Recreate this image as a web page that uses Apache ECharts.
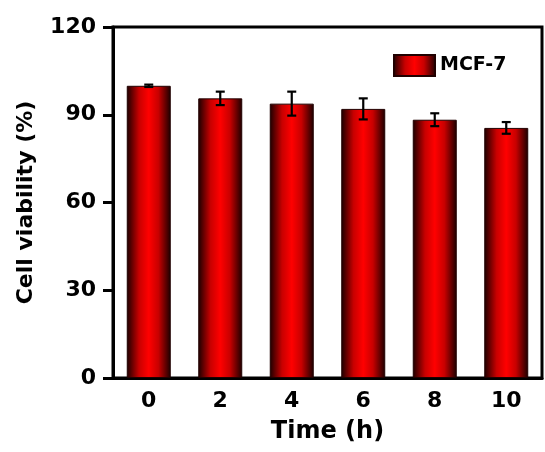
<!DOCTYPE html>
<html>
<head>
<meta charset="utf-8">
<script src="https://cdn.jsdelivr.net/npm/echarts@6/dist/echarts.min.js"></script>
<style>html,body{margin:0;padding:0;background:#fff;}#c{width:545px;height:452px;}</style>
</head>
<body>
<div id="c"></div>
<script>
const categories = ['0', '2', '4', '6', '8', '10'];
const viability = [99.9, 95.6, 93.8, 92.0, 88.3, 85.5];
const errors = [0.4, 2.3, 4.1, 3.6, 2.2, 2.0];
const yTicks = [0, 30, 60, 90, 120];
const seriesName = 'MCF-7';

const FONT = 'DejaVu Sans';
const barGrad = new echarts.graphic.LinearGradient(0, 0, 1, 0, [
  {offset: 0, color: '#1a0000'},
  {offset: 0.28, color: '#c80000'},
  {offset: 0.5, color: '#ff0000'},
  {offset: 0.72, color: '#c80000'},
  {offset: 1, color: '#1a0000'}
]);

const chart = echarts.init(document.getElementById('c'), null, {renderer: 'canvas'});
chart.setOption({
  animation: false,
  backgroundColor: '#fff',
  grid: {left: 113, right: 3, top: 27, bottom: 74, show: true, borderColor: '#000', borderWidth: 3, backgroundColor: 'transparent'},
  legend: {
    data: [seriesName], left: 388, top: 49, itemWidth: 41, itemHeight: 21, itemGap: 6,
    icon: 'rect',
    textStyle: {fontFamily: FONT, fontWeight: 'bold', fontSize: 19, color: '#000'}
  },
  xAxis: {
    type: 'category', data: categories,
    name: 'Time (h)', nameLocation: 'middle', nameGap: 42,
    nameTextStyle: {fontFamily: FONT, fontWeight: 'bold', fontSize: 24, color: '#000'},
    axisLine: {lineStyle: {color: '#000', width: 3}},
    axisTick: {alignWithLabel: true, length: 7, lineStyle: {width: 3, color: '#000'}},
    axisLabel: {fontFamily: FONT, fontWeight: 'bold', fontSize: 22, color: '#000', margin: 12}
  },
  yAxis: {
    type: 'value', min: yTicks[0], max: yTicks[yTicks.length - 1], interval: 30,
    name: 'Cell viability (%)', nameLocation: 'middle', nameGap: 76,
    nameTextStyle: {fontFamily: FONT, fontWeight: 'bold', fontSize: 22, color: '#000'},
    axisLine: {show: true, lineStyle: {color: '#000', width: 3}},
    axisTick: {show: true, length: 10, lineStyle: {width: 3, color: '#000'}},
    axisLabel: {fontFamily: FONT, fontWeight: 'bold', fontSize: 22, color: '#000', margin: 17},
    splitLine: {show: false}
  },
  series: [
    {
      name: seriesName, type: 'bar', data: viability, barWidth: 44,
      itemStyle: {color: barGrad, borderColor: '#200000', borderWidth: 1}
    },
    {
      name: 'err', type: 'custom', z: 10,
      data: viability.map((v, i) => [i, v - errors[i], v + errors[i]]),
      renderItem: function (params, api) {
        const x = api.value(0);
        const lo = api.coord([x, api.value(1)]);
        const hi = api.coord([x, api.value(2)]);
        const hw = 4.5;
        const st = {stroke: '#000', lineWidth: 2.2};
        return {
          type: 'group',
          children: [
            {type: 'line', shape: {x1: lo[0], y1: lo[1], x2: hi[0], y2: hi[1]}, style: st},
            {type: 'line', shape: {x1: lo[0] - hw, y1: lo[1], x2: lo[0] + hw, y2: lo[1]}, style: st},
            {type: 'line', shape: {x1: hi[0] - hw, y1: hi[1], x2: hi[0] + hw, y2: hi[1]}, style: st}
          ]
        };
      }
    }
  ]
});
</script>
</body>
</html>
